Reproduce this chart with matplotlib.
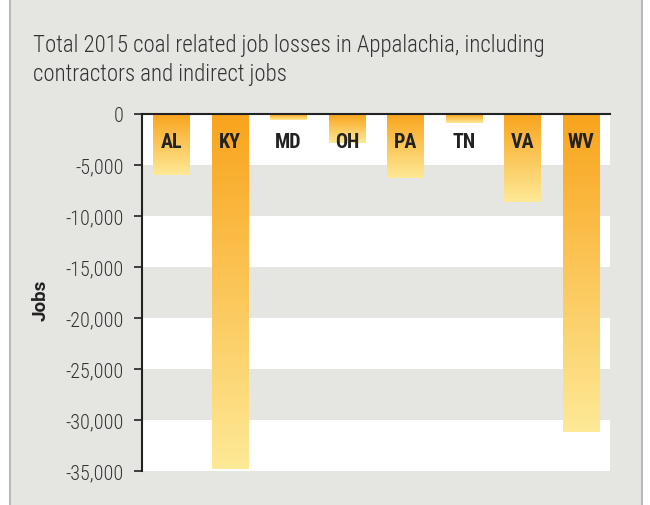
import matplotlib.pyplot as plt
import numpy as np
from matplotlib.lines import Line2D
from matplotlib.patches import Rectangle

states = ['AL', 'KY', 'MD', 'OH', 'PA', 'TN', 'VA', 'WV']
job_losses = [-6000, -34800, -550, -2800, -6300, -880, -8650, -31150]
yticks = [0, -5000, -10000, -15000, -20000, -25000, -30000, -35000]
title_lines = ['Total 2015 coal related job losses in Appalachia, including',
               'contractors and indirect jobs']

BG = '#e5e6e2'
plt.rcParams['font.family'] = ['Roboto Condensed', 'DejaVu Sans']

fig = plt.figure(figsize=(6.5, 5.06), dpi=100, facecolor='white')
# gray panel with side borders
fig.patches.append(Rectangle((10 / 650, 0), 632 / 650, 1, transform=fig.transFigure,
                             facecolor=BG, edgecolor='none', zorder=-10))
for xb in (10 / 650, 642 / 650):
    fig.lines.append(Line2D([xb, xb], [0, 1], transform=fig.transFigure,
                            color='#b9b9b9', lw=1.5))

ax = fig.add_axes([142 / 650, 1 - 472 / 506, 468 / 650, 357 / 506])
ax.set_facecolor(BG)

# alternating white bands
for top in yticks[::2]:
    ax.axhspan(top - 5000, top, color='white', zorder=0, lw=0)

x = np.arange(len(states))
bars = ax.bar(x, job_losses, width=0.62, color='none', zorder=2)

# orange -> pale yellow gradient for each bar
cmap = plt.matplotlib.colors.LinearSegmentedColormap.from_list('g', ['#f9a41c', '#fee996'])
grad = np.linspace(0, 1, 256).reshape(-1, 1)
for b in bars:
    x0 = b.get_x()
    im = ax.imshow(grad, cmap=cmap, aspect='auto', origin='upper',
                   extent=[x0, x0 + b.get_width(), b.get_y() + b.get_height(), b.get_y()],
                   zorder=2)
    im.set_clip_path(b)

for xi, s in zip(x, states):
    ax.text(xi, -2700, s, ha='center', va='center', fontsize=14.5,
            fontweight='bold', color='#222222', zorder=3)

ax.set_xlim(-0.5, len(states) - 0.5)
ax.set_ylim(-35000, 0)
ax.set_yticks(yticks)
ax.set_yticklabels([f'{v:,}' for v in yticks], fontsize=14.5, fontweight='light', color='#333333')
ax.set_xticks([])
ax.tick_params(axis='y', length=6, width=1.2, color='#222222', pad=7)
for side in ('right', 'bottom'):
    ax.spines[side].set_visible(False)
ax.spines['left'].set_color('#222222')
ax.spines['left'].set_linewidth(1.5)
ax.spines['top'].set_color('#222222')
ax.spines['top'].set_linewidth(1.5)

fig.text(40.5 / 650, 1 - 300 / 506, 'Jobs', rotation=90, ha='center', va='center',
         fontsize=13.5, fontweight='bold', color='#222222', family=['Roboto', 'DejaVu Sans'])

for i, line in enumerate(title_lines):
    fig.text(33 / 650, 1 - (52 + 28.5 * i) / 506, line, fontsize=16.5, fontweight='light',
             color='#333333', ha='left', va='baseline')

fig.savefig('out.png', dpi=100, facecolor=fig.get_facecolor())
